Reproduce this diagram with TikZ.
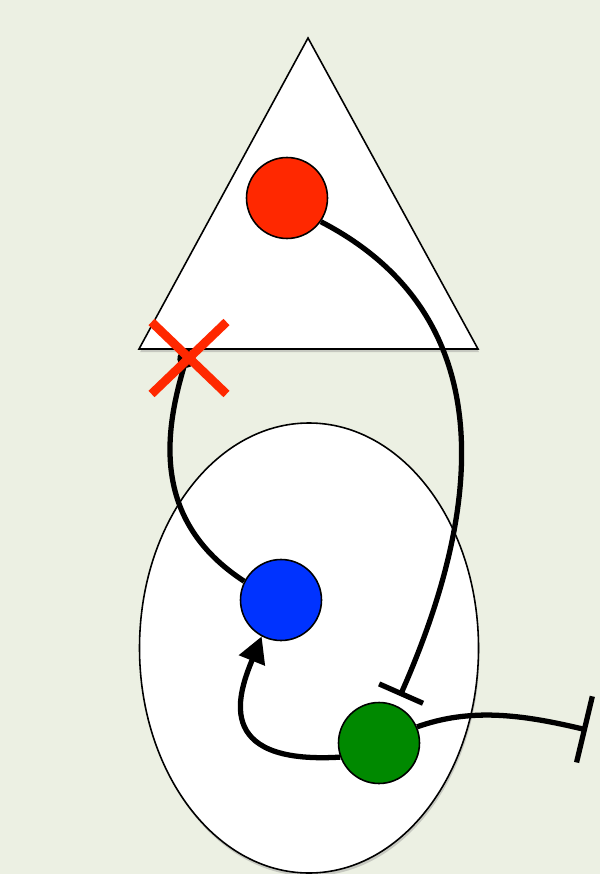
\documentclass[tikz,border=0pt]{standalone}
\usepackage{xcolor}
\usepackage{tikz}
\usetikzlibrary{arrows.meta, shapes.misc, shadows}
\definecolor{pagebg}{RGB}{236,240,227}
\definecolor{cellred}{RGB}{255,40,0}
\definecolor{cellblue}{RGB}{0,51,255}
\definecolor{cellgreen}{RGB}{0,137,0}

\begin{document}
\begin{tikzpicture}[x=0.02cm, y=-0.02cm,
        region/.style={fill=white, draw=black, line width=0.9pt, drop shadow={shadow xshift=0.6pt, shadow yshift=-1.8pt, opacity=0.35}},
        cell/.style={circle, draw=black, line width=0.9pt, inner sep=0pt, minimum size=1.62cm},
        link/.style={line width=3pt},
        blocked/.style={cross out, draw=cellred, line width=5pt, inner sep=0pt, outer sep=0pt, minimum width=1.5cm, minimum height=1.44cm}
    ]

    \fill[pagebg] (0,0) rectangle (600,874);
    \useasboundingbox (0,0) rectangle (600,874);

    \filldraw[region] (308,38) -- (478,349) -- (139,349) -- cycle;
    \filldraw[region] (309,648) ellipse [x radius=169.5, y radius=225];

    \node[cell, fill=cellred] (red) at (287,198) {};
    \node[cell, fill=cellblue] (blue) at (281,600) {};
    \node[cell, fill=cellgreen] (green) at (379,743) {};
    \coordinate (tbar) at (400,696);
    \coordinate (rbar) at (587,730);

    \draw[link, -{Bar[width=0.96cm]}] (red.-35) .. controls (530,330) and (460,560) .. (tbar);
    \draw[link, -{Circle[length=0.36cm]}] (blue.153) .. controls (150,520) and (165,430) .. (189,350);
    \draw[link, -{Triangle[length=0.52cm, width=0.54cm]}] (green.200) .. controls (210,765) and (240,690) .. (blue.242);
    \draw[link, -{Bar[width=1.36cm]}] (green.23) .. controls (470,708) and (520,714) .. (rbar);

    \node[blocked] (block) at (189,358) {};
\end{tikzpicture}
\end{document}
